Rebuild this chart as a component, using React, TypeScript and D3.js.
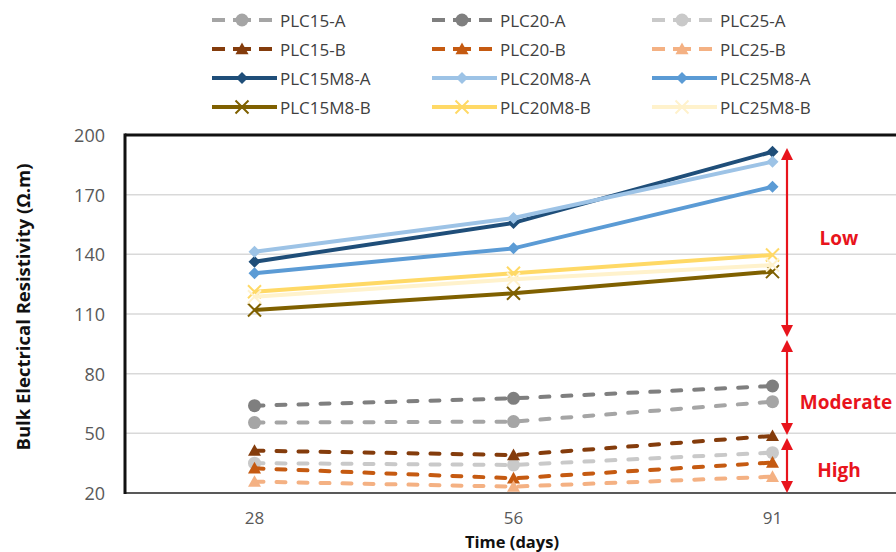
import React from "react";
import * as d3 from "d3";

const categories = ["28", "56", "91"];
const yTicks = [20, 50, 80, 110, 140, 170, 200];

const seriesNames = [
  "PLC15-A", "PLC20-A", "PLC25-A",
  "PLC15-B", "PLC20-B", "PLC25-B",
  "PLC15M8-A", "PLC20M8-A", "PLC25M8-A",
  "PLC15M8-B", "PLC20M8-B", "PLC25M8-B",
];

const plc15A = [55.4, 55.9, 65.9];
const plc20A = [63.9, 67.6, 73.8];
const plc25A = [35.0, 34.1, 40.3];
const plc15B = [41.3, 39.1, 48.7];
const plc20B = [32.4, 27.4, 35.3];
const plc25B = [25.7, 23.2, 28.2];
const plc15M8A = [136.3, 155.8, 191.6];
const plc20M8A = [141.3, 158.3, 186.6];
const plc25M8A = [130.5, 143.0, 174.0];
const plc15M8B = [112.0, 120.4, 131.3];
const plc20M8B = [121.2, 130.5, 139.7];
const plc25M8B = [118.7, 127.5, 134.6];

const seriesValues = [
  plc15A, plc20A, plc25A,
  plc15B, plc20B, plc25B,
  plc15M8A, plc20M8A, plc25M8A,
  plc15M8B, plc20M8B, plc25M8B,
];

const seriesColors = [
  "#a5a5a5", "#7f7f7f", "#c9c9c9",
  "#843c0c", "#c55a11", "#f4b183",
  "#1f4e79", "#9dc3e6", "#5b9bd5",
  "#7f6000", "#ffd966", "#fff2cc",
];

const seriesMarkers = [
  "circle", "circle", "circle",
  "triangle", "triangle", "triangle",
  "diamond", "diamond", "diamond",
  "x", "x", "x",
];
const seriesDashed = [true, true, true, true, true, true, false, false, false, false, false, false];

const rangeLabels = ["Low", "Moderate", "High"];
const rangeFrom = [193.5, 96.9, 47.7];
const rangeTo = [98.4, 49.2, 20];
const rangeLabelAt = [148.2, 65.7, 31.5];

const W = 896;
const H = 552;
const FONT = "'Open Sans', 'Liberation Sans', Arial, sans-serif";

function Marker({ shape, x, y, color, scale = 1 }: { shape: string; x: number; y: number; color: string; scale?: number }) {
  if (shape === "circle") return <circle cx={x} cy={y} r={6.5 * scale} fill={color} />;
  if (shape === "triangle") {
    const s = 6.5 * scale;
    return <path d={`M${x},${y - s} L${x + s},${y + s * 0.8} L${x - s},${y + s * 0.8} Z`} fill={color} />;
  }
  if (shape === "diamond") {
    const s = 6 * scale;
    return <path d={`M${x},${y - s} L${x + s},${y} L${x},${y + s} L${x - s},${y} Z`} fill={color} />;
  }
  const s = 6.5 * scale;
  return (
    <path
      d={`M${x - s},${y - s} L${x + s},${y + s} M${x - s},${y + s} L${x + s},${y - s}`}
      stroke={color}
      strokeWidth={2}
      fill="none"
    />
  );
}

export default function App() {
  const left = 125, right = 902, top = 135, bottom = 493;
  const x = d3.scalePoint<string>().domain(categories).range([left, right]).padding(0.5);
  const y = d3.scaleLinear().domain([20, 200]).range([bottom, top]);
  const line = d3
    .line<number>()
    .x((_, i) => x(categories[i]) as number)
    .y((d) => y(d));

  const legendTextX = [280, 500, 720];
  const legendRowY = [20, 49, 78, 107];
  const arrowX = 787;
  const red = "#e8141c";

  return (
    <svg
      width={W}
      height={H}
      style={{ position: "fixed", left: 0, top: 0, background: "#fff", overflow: "hidden" }}
      fontFamily={FONT}
    >
      <rect width={W} height={H} fill="#fff" />
      {/* gridlines */}
      {yTicks.slice(1, -1).map((t) => (
        <line key={t} x1={left} x2={W} y1={y(t)} y2={y(t)} stroke="#d9d9d9" strokeWidth={1.5} />
      ))}
      {/* frame */}
      <line x1={left} x2={W} y1={top} y2={top} stroke="#111" strokeWidth={3} />
      <line x1={left} x2={W} y1={bottom} y2={bottom} stroke="#595959" strokeWidth={2} />
      <line x1={left} x2={left} y1={top - 1.5} y2={bottom + 1} stroke="#111" strokeWidth={3} />

      {/* y tick labels */}
      {yTicks.map((t) => (
        <text key={t} x={105} y={y(t)} textAnchor="end" dominantBaseline="central" fontSize={18} fill="#595959">
          {t}
        </text>
      ))}
      {/* x tick labels */}
      {categories.map((c) => (
        <text key={c} x={x(c)} y={517.5} textAnchor="middle" dominantBaseline="central" fontSize={17} fill="#595959">
          {c}
        </text>
      ))}
      <text x={512} y={541} textAnchor="middle" dominantBaseline="central" fontSize={16.5} fontWeight="bold" fill="#111">
        Time (days)
      </text>
      <text
        transform={`translate(22,307) rotate(-90)`}
        textAnchor="middle"
        dominantBaseline="central"
        fontSize={18.5}
        fontWeight="bold"
        fill="#111"
      >
        Bulk Electrical Resistivity (Ω.m)
      </text>

      {/* series */}
      {seriesValues.map((vals, i) => (
        <g key={seriesNames[i]}>
          <path
            d={line(vals) || ""}
            fill="none"
            stroke={seriesColors[i]}
            strokeWidth={4}
            strokeDasharray={seriesDashed[i] ? "9 13" : undefined}
            strokeLinecap={seriesDashed[i] ? "round" : "butt"}
          />
          {vals.map((v, j) => (
            <Marker key={j} shape={seriesMarkers[i]} x={x(categories[j]) as number} y={y(v)} color={seriesColors[i]} />
          ))}
        </g>
      ))}

      {/* range arrows */}
      {rangeLabels.map((lab, i) => {
        const y1 = y(rangeFrom[i]);
        const y2 = y(rangeTo[i]);
        const hh = 12, hw = 6;
        return (
          <g key={lab}>
            <line x1={arrowX} x2={arrowX} y1={y1 + hh - 1} y2={y2 - hh + 1} stroke={red} strokeWidth={2.2} />
            <path d={`M${arrowX},${y1} L${arrowX + hw},${y1 + hh} L${arrowX - hw},${y1 + hh} Z`} fill={red} />
            <path d={`M${arrowX},${y2} L${arrowX + hw},${y2 - hh} L${arrowX - hw},${y2 - hh} Z`} fill={red} />
            <text
              x={i === 1 ? 846 : 839}
              y={y(rangeLabelAt[i])}
              textAnchor="middle"
              dominantBaseline="central"
              fontSize={19}
              fontWeight="bold"
              fill={red}
            >
              {lab}
            </text>
          </g>
        );
      })}

      {/* legend */}
      {seriesNames.map((name, i) => {
        const col = i % 3;
        const row = Math.floor(i / 3);
        const tx = legendTextX[col];
        const ly = legendRowY[row];
        const x0 = tx - 68;
        const x1 = seriesDashed[i] ? tx - 8 : tx - 3;
        const cx = (tx - 68 + tx - 8) / 2;
        return (
          <g key={name}>
            <line
              x1={x0}
              x2={x1}
              y1={ly}
              y2={ly}
              stroke={seriesColors[i]}
              strokeWidth={4}
              strokeDasharray={seriesDashed[i] ? "13 8 18 8 13" : undefined}
            />
            <Marker shape={seriesMarkers[i]} x={cx} y={ly} color={seriesColors[i]} />
            <text x={tx} y={ly} dominantBaseline="central" fontSize={17} fill="#404040">
              {name}
            </text>
          </g>
        );
      })}
    </svg>
  );
}
